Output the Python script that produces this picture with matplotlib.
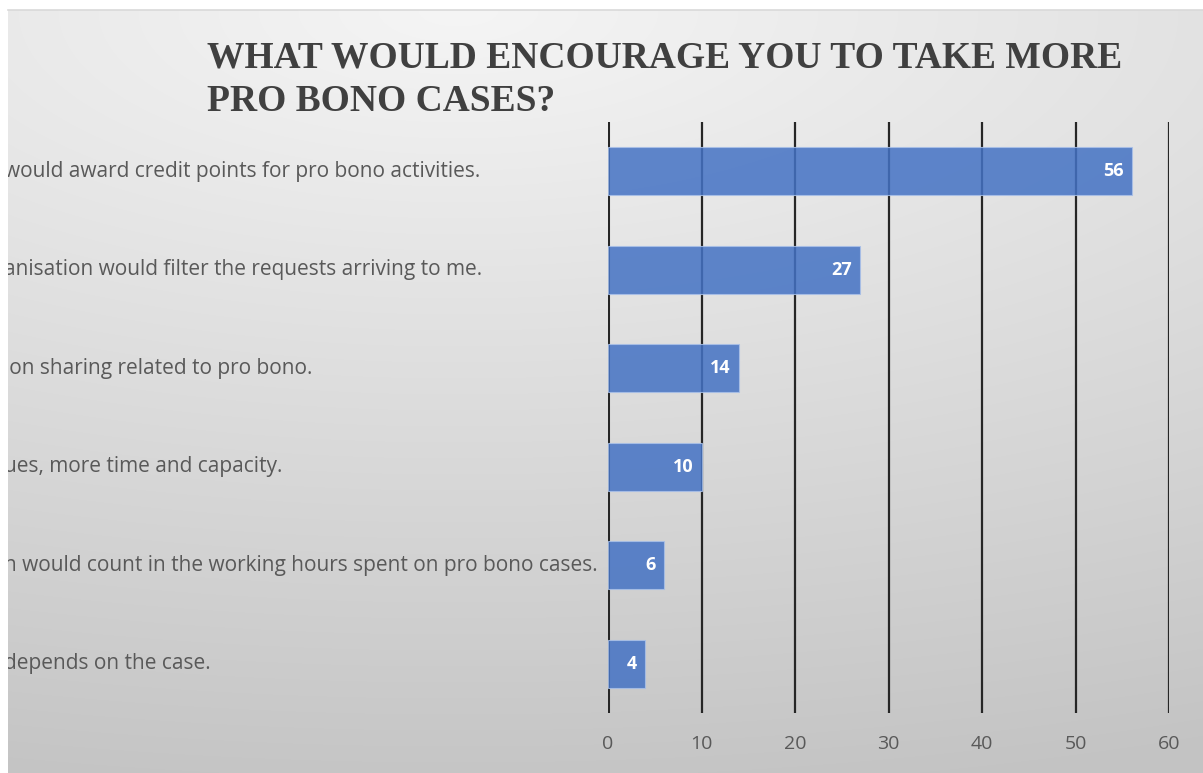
import numpy as np
import matplotlib
matplotlib.use("Agg")
import matplotlib.pyplot as plt
from matplotlib.transforms import blended_transform_factory

# ---- data ----
categories = [
    "would award credit points for pro bono activities.",
    "anisation would filter the requests arriving to me.",
    "ion sharing related to pro bono.",
    "ues, more time and capacity.",
    "n would count in the working hours spent on pro bono cases.",
    "depends on the case.",
]
values = [56, 27, 14, 10, 6, 4]
xticks = [0, 10, 20, 30, 40, 50, 60]
title = "WHAT WOULD ENCOURAGE YOU TO TAKE MORE\nPRO BONO CASES?"

W, H = 1203, 773
fig = plt.figure(figsize=(W / 100, H / 100), dpi=100, facecolor="white")

# ---- background with soft gradient ----
bg = fig.add_axes([8 / W, 0, 1 - 8 / W, (H - 10) / H])
bg.set_axis_off()
yy, xx = np.mgrid[0:H - 10, 0:W - 8]
t = np.sqrt(((xx - 450) / 2000.0) ** 2 + ((yy - 0) / 800.0) ** 2)
t = np.clip(t, 0, 1)
g = 245 - t * 50
img = np.dstack([g, g, g]) / 255.0
bg.imshow(img, extent=[0, 1, 0, 1], aspect="auto", origin="upper")
bg.set_xlim(0, 1)
bg.set_ylim(0, 1)
# thin top border line
fig.add_artist(plt.Line2D([8 / W, 1], [(H - 10) / H, (H - 10) / H],
                          color="#D9D9D9", lw=1.2, transform=fig.transFigure))

# ---- main axes ----
left, right = 608 / W, 1169 / W
bottom, top = (H - 713) / H, (H - 122) / H
ax = fig.add_axes([left, bottom, right - left, top - bottom])
ax.patch.set_alpha(0)
for s in ax.spines.values():
    s.set_visible(False)

ypos = np.arange(len(categories))
ax.barh(ypos, values, height=0.49, color="#4472C4", alpha=0.85,
        edgecolor="#A9C0E8", linewidth=0.8, zorder=3)
ax.set_xlim(0, 60)
ax.set_ylim(len(categories) - 0.5, -0.5)
ax.set_xticks(xticks)
ax.set_xticklabels([str(v) for v in xticks])
ax.set_yticks([])
ax.tick_params(axis="x", length=0, pad=16, labelsize=14, labelcolor="#595959")
for lab in ax.get_xticklabels():
    lab.set_family("Open Sans")
for xv in xticks:
    ax.axvline(xv, color="#262626", lw=2.2 if xv == 0 else 1.6, zorder=2)

for y, v in zip(ypos, values):
    ax.annotate(str(v), (v, y), xytext=(-6, 0), textcoords="offset points",
                ha="right", va="center", color="white", fontsize=13,
                fontweight="bold", family="Open Sans", zorder=5)

# ---- category labels (clipped at the left edge) ----
tr = blended_transform_factory(fig.transFigure, ax.transData)
for y, c in zip(ypos, categories):
    bg.text(4 / W, y, c, transform=tr, ha="left", va="center",
            fontsize=15, color="#595959", family="Open Sans", clip_on=True)

# ---- title ----
fig.text(207 / W, 1 - 40 / H, title, ha="left", va="top",
         fontsize=27, fontweight="bold", family="Liberation Serif",
         color="#404040", linespacing=1.32)

fig.savefig("out.png", dpi=100, facecolor="white")
